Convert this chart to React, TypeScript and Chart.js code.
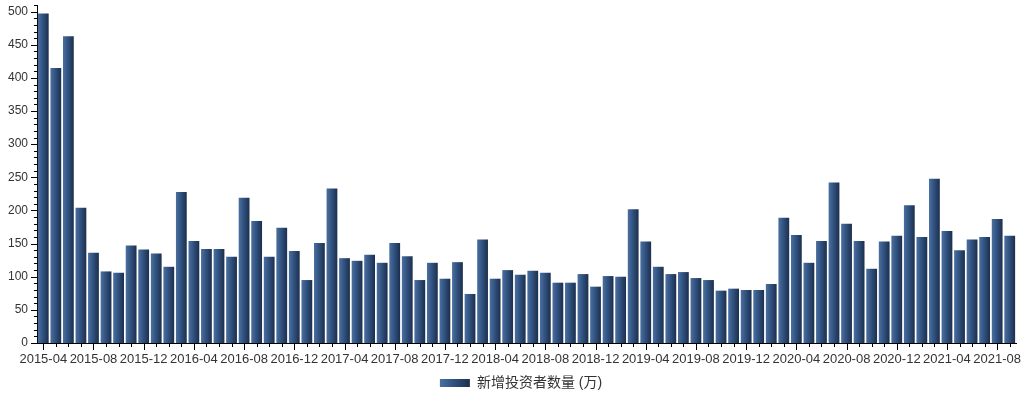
import React, { useEffect, useRef } from "react";
import { Chart, registerables } from "chart.js";

Chart.register(...registerables);

const months: string[] = [
  "2015-04","2015-05","2015-06","2015-07","2015-08","2015-09","2015-10","2015-11","2015-12",
  "2016-01","2016-02","2016-03","2016-04","2016-05","2016-06","2016-07","2016-08","2016-09","2016-10","2016-11","2016-12",
  "2017-01","2017-02","2017-03","2017-04","2017-05","2017-06","2017-07","2017-08","2017-09","2017-10","2017-11","2017-12",
  "2018-01","2018-02","2018-03","2018-04","2018-05","2018-06","2018-07","2018-08","2018-09","2018-10","2018-11","2018-12",
  "2019-01","2019-02","2019-03","2019-04","2019-05","2019-06","2019-07","2019-08","2019-09","2019-10","2019-11","2019-12",
  "2020-01","2020-02","2020-03","2020-04","2020-05","2020-06","2020-07","2020-08","2020-09","2020-10","2020-11","2020-12",
  "2021-01","2021-02","2021-03","2021-04","2021-05","2021-06","2021-07","2021-08","2021-09",
];

const newInvestors: number[] = [
  497, 415, 463, 204, 136, 108, 106, 147, 141,
  135, 115, 228, 154, 142, 142, 130, 219, 184, 130, 174, 139,
  95, 151, 233, 128, 124, 133, 121, 151, 131, 95, 121, 97,
  122, 74, 156, 97, 110, 103, 109, 106, 91, 91, 104, 85,
  101, 100, 202, 153, 115, 104, 107, 98, 95, 79, 82, 80,
  80, 89, 189, 163, 121, 154, 242, 180, 154, 112, 153, 162,
  208, 160, 248, 169, 140, 156, 160, 187, 162,
];

const seriesName = "新增投资者数量 (万)";
const yMax = 510;
const yStep = 50;
const yMinorStep = 10;
const labelEvery = 4;
const LEGEND_SHIFT = 13;

const COLOR_LIGHT = "#4a70a0";
const COLOR_MID = "#2f4f7c";
const COLOR_DARK = "#1c2f4c";

function makeGradient(ctx: CanvasRenderingContext2D, x0: number, x1: number) {
  const g = ctx.createLinearGradient(x0, 0, x1, 0);
  g.addColorStop(0, COLOR_LIGHT);
  g.addColorStop(0.5, COLOR_MID);
  g.addColorStop(1, COLOR_DARK);
  return g;
}

const BAR_PCT = 0.86;

const tickPlugin = {
  id: "customTicks",
  afterLayout(chart: any) {
    const legend = chart.legend;
    if (legend) {
      legend.left += LEGEND_SHIFT;
      legend.right += LEGEND_SHIFT;
    }
  },
  beforeDraw(chart: any) {
    const legend = chart.legend;
    if (legend && legend.legendItems && legend.legendItems[0] && legend.legendHitBoxes && legend.legendHitBoxes[0]) {
      const hb = legend.legendHitBoxes[0];
      const bw = legend.options.labels.boxWidth;
      legend.legendItems[0].fillStyle = makeGradient(chart.ctx, hb.left, hb.left + bw);
    }
  },
  afterDraw(chart: any) {
    const ctx = chart.ctx as CanvasRenderingContext2D;
    const xs = chart.scales.x;
    const ys = chart.scales.y;
    const area = chart.chartArea;
    ctx.save();
    ctx.strokeStyle = "#000";
    ctx.lineWidth = 1;
    ctx.beginPath();
    for (let v = 0; v <= yMax; v += yMinorStep) {
      const py = Math.round(ys.getPixelForValue(v)) + 0.5;
      const len = v % yStep === 0 ? 6 : 3;
      ctx.moveTo(area.left - len, py);
      ctx.lineTo(area.left, py);
    }
    for (let i = 0; i < months.length; i++) {
      const px = Math.round(xs.getPixelForValue(i)) + 0.5;
      const len = i % labelEvery === 0 ? 7 : 4;
      ctx.moveTo(px, area.bottom);
      ctx.lineTo(px, area.bottom + len);
    }
    ctx.stroke();
    ctx.restore();
  },
};

export default function App() {
  const ref = useRef<HTMLCanvasElement | null>(null);
  useEffect(() => {
    document.body.style.margin = "0";
    const canvas = ref.current!;
    const chart = new Chart(canvas, {
      type: "bar",
      data: {
        labels: months,
        datasets: [
          {
            label: seriesName,
            data: newInvestors,
            barPercentage: BAR_PCT,
            categoryPercentage: 1,
            borderWidth: 0,
            backgroundColor: (c: any) => {
              const ch = c.chart;
              const xs = ch.scales && ch.scales.x;
              if (!ch.chartArea || !xs || c.dataIndex === undefined) return COLOR_MID;
              const cx = xs.getPixelForValue(c.dataIndex);
              const w = (xs.width / months.length) * BAR_PCT;
              return makeGradient(ch.ctx, cx - w / 2, cx + w / 2);
            },
          },
        ],
      },
      options: {
        responsive: false,
        animation: false,
        devicePixelRatio: 1,
        layout: { padding: { top: 5, right: 6, left: 0, bottom: -7 } },
        plugins: {
          tooltip: { enabled: false },
          legend: {
            position: "bottom",
            labels: {
              boxWidth: 30,
              boxHeight: 8,
              padding: 4,
              color: "#333",
              font: { family: "'Liberation Sans', 'Noto Sans CJK SC', sans-serif", size: 14 },
            },
          },
        },
        scales: {
          x: {
            grid: { display: false, drawTicks: false },
            border: { display: true, color: "#000", width: 1 },
            ticks: {
              autoSkip: false,
              maxRotation: 0,
              minRotation: 0,
              padding: 9,
              color: "#333",
              font: { family: "'Liberation Sans', Arial, sans-serif", size: 13 },
              callback: (_v: any, i: number) => (i % labelEvery === 0 ? months[i] : ""),
            },
            afterFit: (s: any) => {
              s.height = 29;
            },
          },
          y: {
            min: 0,
            max: yMax,
            grid: { display: false, drawTicks: false },
            border: { display: true, color: "#000", width: 1 },
            ticks: {
              stepSize: yStep,
              includeBounds: false,
              padding: 9,
              color: "#333",
              font: { family: "'Liberation Sans', Arial, sans-serif", size: 12 },
            },
            afterFit: (s: any) => {
              s.width = 37;
              s.paddingTop = 0;
              s.paddingBottom = 0;
            },
          },
        },
      },
      plugins: [tickPlugin],
    });
    return () => chart.destroy();
  }, []);
  return (
    <div style={{ position: "absolute", left: 0, top: 0, width: 1022, height: 393 }}>
      <canvas ref={ref} width={1022} height={393} />
    </div>
  );
}
